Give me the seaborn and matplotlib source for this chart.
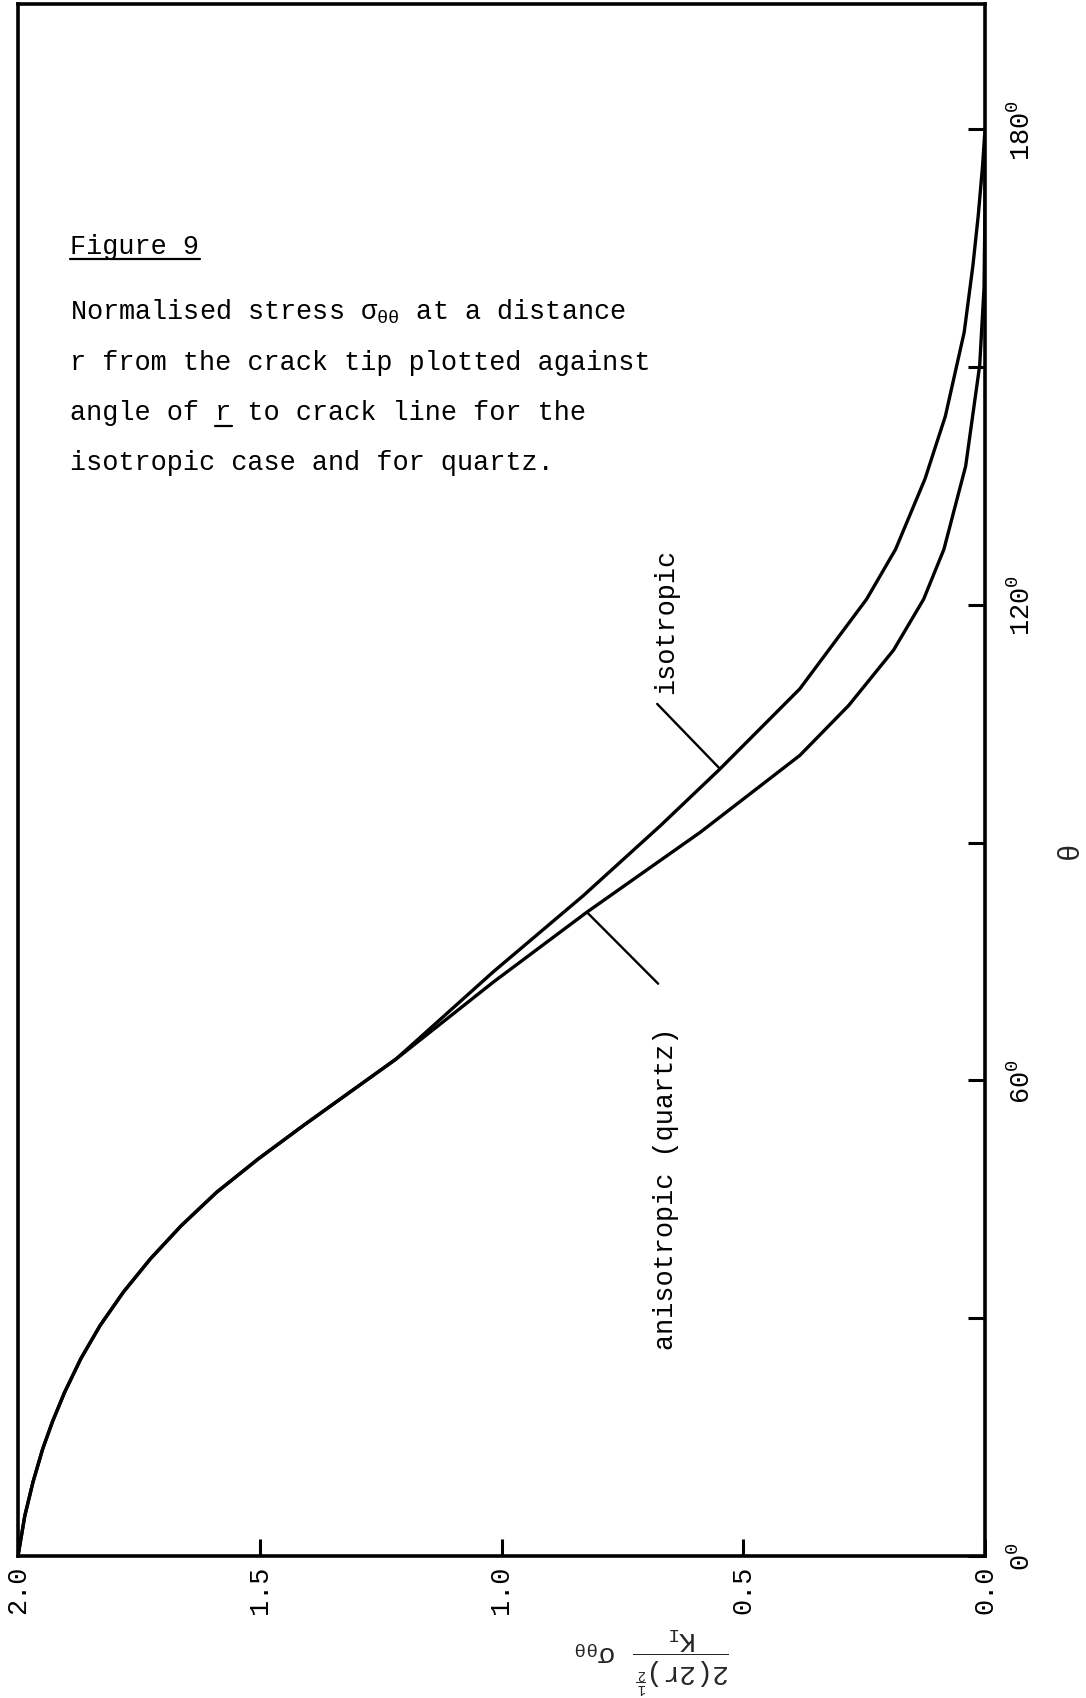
import matplotlib
matplotlib.use('Agg')
import matplotlib.pyplot as plt
import pandas as pd
import seaborn as sns
from matplotlib.lines import Line2D

sns.set_theme(style='ticks')
plt.rcParams['font.family'] = ['Liberation Mono', 'DejaVu Sans Mono', 'DejaVu Sans']
plt.rcParams['mathtext.fontset'] = 'custom'
plt.rcParams['mathtext.rm'] = 'Liberation Mono'
plt.rcParams['mathtext.it'] = 'Liberation Mono'
plt.rcParams['mathtext.bf'] = 'Liberation Mono:bold'

# ---- data (theta in degrees, normalised stress) ----
iso_theta = [0, 5.05, 9.33, 13.5, 16.9, 20.6, 24.9, 29.1, 33.3, 37.5, 41.7, 45.9,
             50.1, 54.3, 58.5, 62.7, 73.7, 83.3, 92.1, 99.3, 109.4, 120.7, 127.0,
             135.9, 143.8, 154.4, 162.8, 169.1, 175.4, 180]
iso_stress = [2.0, 1.986, 1.969, 1.949, 1.929, 1.904, 1.870, 1.830, 1.782, 1.726, 1.662, 1.589,
              1.503, 1.410, 1.314, 1.218, 1.017, 0.831, 0.672, 0.548, 0.383, 0.245, 0.185,
              0.124, 0.082, 0.043, 0.025, 0.014, 0.005, 0.0]
quartz_theta = [0, 5.05, 9.33, 13.5, 16.9, 20.6, 24.9, 29.1, 33.3, 37.5, 41.7, 45.9,
                50.1, 54.3, 58.5, 62.7, 72.4, 81.2, 91.3, 101.0, 107.3, 114.3,
                120.7, 127.0, 137.5, 150.2, 160.0, 170.0, 180]
quartz_stress = [2.0, 1.986, 1.969, 1.949, 1.929, 1.904, 1.870, 1.830, 1.782, 1.726, 1.662, 1.589,
                 1.503, 1.410, 1.314, 1.218, 1.017, 0.824, 0.589, 0.383, 0.282, 0.189,
                 0.127, 0.085, 0.040, 0.011, 0.002, 0.0, 0.0]

series_names = ['isotropic', 'anisotropic (quartz)']
theta_ticks = [0, 30, 60, 90, 120, 150, 180]
theta_ticklabels = ['0$^0$', '', '60$^0$', '', '120$^0$', '', '180$^0$']
stress_ticks = [2.0, 1.5, 1.0, 0.5, 0.0]
stress_ticklabels = ['2.0', '1.5', '1.0', '0.5', '0.0']
caption_title = 'Figure 9'
caption_lines = ['Normalised stress $\\sigma_{\\theta\\theta}$ at a distance',
                 'r from the crack tip plotted against',
                 'angle of r to crack line for the',
                 'isotropic case and for quartz.']
theta_label = 'θ'
stress_label = r'$\dfrac{2(2r)^{\frac{1}{2}}}{K_{\mathrm{I}}}\quad\sigma_{\theta\theta}$'

df = pd.concat([
    pd.DataFrame({'theta': iso_theta, 'stress': iso_stress, 'case': series_names[0]}),
    pd.DataFrame({'theta': quartz_theta, 'stress': quartz_stress, 'case': series_names[1]}),
], ignore_index=True)

W, H = 1086, 1699
FS = 19.4
fig = plt.figure(figsize=(W / 100, H / 100), dpi=100)
fig.patch.set_facecolor('white')
ax = fig.add_axes([18 / W, 1 - 1557 / H, 967 / W, 1552 / H])

sns.lineplot(data=df, x='stress', y='theta', hue='case',
             palette={series_names[0]: 'black', series_names[1]: 'black'},
             estimator=None, sort=False, orient='y', legend=False,
             linewidth=2.4, ax=ax)

ax.set_xlim(2.0, 0.0)
ax.set_ylim(0, 195.8)
ax.set_xlabel('')
ax.set_ylabel('')

ax.yaxis.tick_right()
ax.set_yticks(theta_ticks)
ax.set_yticklabels(theta_ticklabels, rotation=90, va='center')
ax.set_xticks(stress_ticks)
ax.set_xticklabels(stress_ticklabels, rotation=90)
ax.tick_params(axis='both', direction='in', length=12, width=2.2,
               labelsize=FS, colors='black')
ax.tick_params(axis='y', pad=17, left=False, right=True)
ax.tick_params(axis='x', pad=6.5, bottom=True, top=False)
for s in ax.spines.values():
    s.set_visible(True)
    s.set_linewidth(2.6)
    s.set_color('black')

# leader lines and curve labels
lp = dict(arrowstyle='-', lw=1.7, color='black', shrinkA=0, shrinkB=0)
ax.annotate('', xy=(0.548, 99.3), xytext=(0.678, 107.5), arrowprops=lp)
ax.annotate('', xy=(0.823, 81.2), xytext=(0.676, 72.2), arrowprops=lp)
ax.text(0.660, 108.9, series_names[0], rotation=90, ha='center', va='bottom',
        fontsize=FS, color='black')
ax.text(0.660, 66.85, series_names[1], rotation=90, ha='center', va='top',
        fontsize=FS, color='black')

# caption
fig.text(70 / W, 1 - 254 / H, caption_title, fontsize=FS, ha='left', va='baseline', color='black')
fig.add_artist(Line2D([70 / W, 200 / W], [1 - 260 / H, 1 - 260 / H], lw=1.6, color='black'))
baselines = [320, 370, 420, 470]
for line, b in zip(caption_lines, baselines):
    fig.text(70 / W, 1 - b / H, line, fontsize=FS, ha='left', va='baseline', color='black')
fig.add_artist(Line2D([215 / W, 232 / W], [1 - 427 / H, 1 - 427 / H], lw=1.6, color='black'))

# axis labels (rotated as in the page)
fig.text(1070 / W, 1 - 850 / H, theta_label, rotation=90, fontsize=21, ha='center', va='center')
fig.text(652 / W, 1 - 1660 / H, stress_label, rotation=180, fontsize=20, ha='center', va='center')

fig.savefig('out.png', dpi=100, facecolor='white')
